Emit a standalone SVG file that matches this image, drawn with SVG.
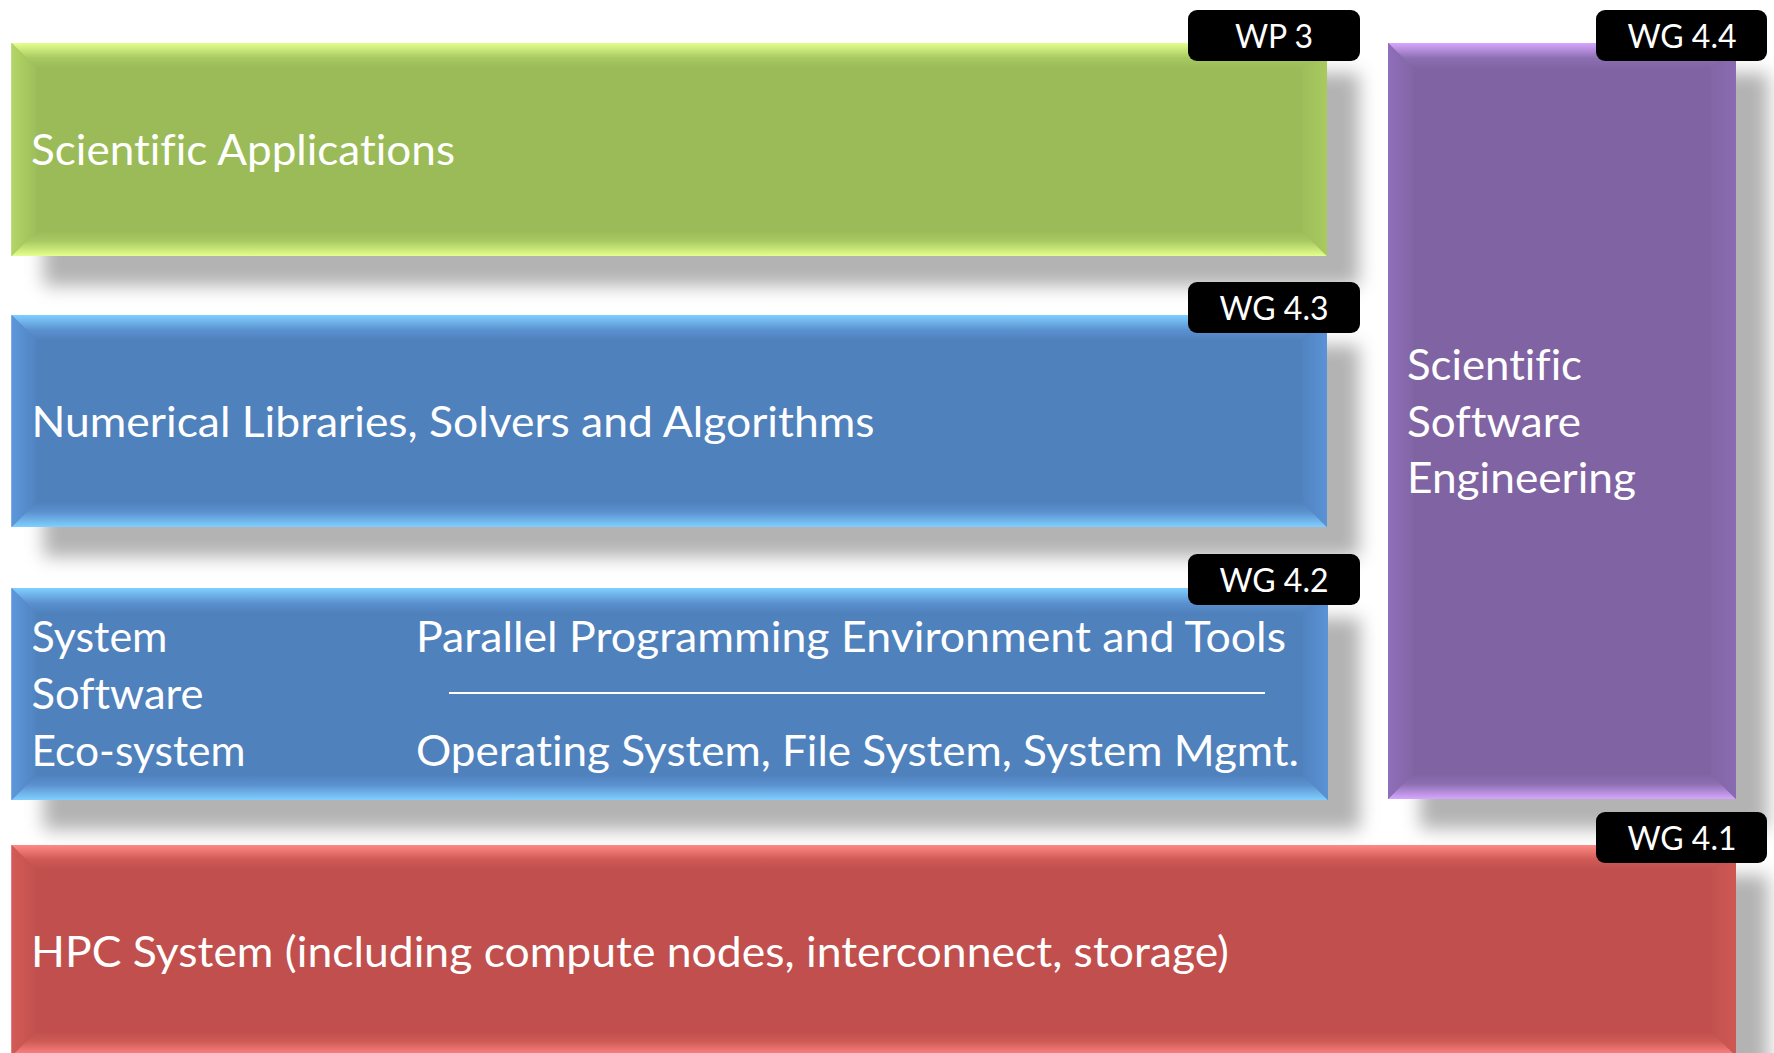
<svg xmlns="http://www.w3.org/2000/svg" width="1774" height="1053" viewBox="0 0 1774 1053">
<style>
.lbl{font-family:Lato,"Open Sans","Liberation Sans",sans-serif;font-size:43px;fill:#fff;font-variant-ligatures:none}
.tag{font-family:Lato,"Open Sans","Liberation Sans",sans-serif;font-size:32px;fill:#fff;text-anchor:middle}
.tagbox{fill:#000}
</style>
<defs>
<filter id="sh" x="-10%" y="-20%" width="125%" height="160%">
<feGaussianBlur in="SourceAlpha" stdDeviation="9"/>
<feOffset dx="32" dy="30" result="o"/>
<feFlood flood-color="#000" flood-opacity="0.3"/>
<feComposite in2="o" operator="in"/>
<feMerge><feMergeNode/><feMergeNode in="SourceGraphic"/></feMerge>
</filter>
<linearGradient id="gT" x1="0" y1="0" x2="0" y2="1"><stop offset="0" stop-color="#e4ff8c"/><stop offset="0.6" stop-color="#a8c962"/><stop offset="1" stop-color="#9bbb59"/></linearGradient>
<linearGradient id="gB" x1="0" y1="1" x2="0" y2="0"><stop offset="0" stop-color="#e4ff8c"/><stop offset="0.6" stop-color="#a8c962"/><stop offset="1" stop-color="#9bbb59"/></linearGradient>
<linearGradient id="gL" x1="0" y1="0" x2="1" y2="0"><stop offset="0" stop-color="#b3d566"/><stop offset="1" stop-color="#9ebe5a"/></linearGradient>
<linearGradient id="gR" x1="1" y1="0" x2="0" y2="0"><stop offset="0" stop-color="#a8ca60"/><stop offset="1" stop-color="#9ebe5a"/></linearGradient>
<linearGradient id="bT" x1="0" y1="0" x2="0" y2="1"><stop offset="0" stop-color="#80cfff"/><stop offset="0.6" stop-color="#5b91d0"/><stop offset="1" stop-color="#4f81bd"/></linearGradient>
<linearGradient id="bB" x1="0" y1="1" x2="0" y2="0"><stop offset="0" stop-color="#80cfff"/><stop offset="0.6" stop-color="#5b91d0"/><stop offset="1" stop-color="#4f81bd"/></linearGradient>
<linearGradient id="bL" x1="0" y1="0" x2="1" y2="0"><stop offset="0" stop-color="#5d98dc"/><stop offset="1" stop-color="#5183c0"/></linearGradient>
<linearGradient id="bR" x1="1" y1="0" x2="0" y2="0"><stop offset="0" stop-color="#5a93d6"/><stop offset="1" stop-color="#5183c0"/></linearGradient>
<linearGradient id="pT" x1="0" y1="0" x2="0" y2="1"><stop offset="0" stop-color="#d7a6ff"/><stop offset="0.6" stop-color="#8c6fb2"/><stop offset="1" stop-color="#8064a2"/></linearGradient>
<linearGradient id="pB" x1="0" y1="1" x2="0" y2="0"><stop offset="0" stop-color="#d7a6ff"/><stop offset="0.6" stop-color="#8c6fb2"/><stop offset="1" stop-color="#8064a2"/></linearGradient>
<linearGradient id="pL" x1="0" y1="0" x2="1" y2="0"><stop offset="0" stop-color="#906ebb"/><stop offset="1" stop-color="#8266a5"/></linearGradient>
<linearGradient id="pR" x1="1" y1="0" x2="0" y2="0"><stop offset="0" stop-color="#8a6bb2"/><stop offset="1" stop-color="#8266a5"/></linearGradient>
<linearGradient id="rT" x1="0" y1="0" x2="0" y2="1"><stop offset="0" stop-color="#ff8a85"/><stop offset="0.6" stop-color="#d05a56"/><stop offset="1" stop-color="#c0504d"/></linearGradient>
<linearGradient id="rB" x1="0" y1="1" x2="0" y2="0"><stop offset="0" stop-color="#ff8a85"/><stop offset="0.6" stop-color="#d05a56"/><stop offset="1" stop-color="#c0504d"/></linearGradient>
<linearGradient id="rL" x1="0" y1="0" x2="1" y2="0"><stop offset="0" stop-color="#d45a56"/><stop offset="1" stop-color="#c2524e"/></linearGradient>
<linearGradient id="rR" x1="1" y1="0" x2="0" y2="0"><stop offset="0" stop-color="#cf5854"/><stop offset="1" stop-color="#c2524e"/></linearGradient>
</defs>
<rect width="1774" height="1053" fill="#fff"/>

<g id="connectors"></g>

<g id="scientific-applications">
<rect x="11.5" y="43" width="1315.5" height="213" fill="#9bbb59" filter="url(#sh)"/>
<polygon points="11.5,43 1327,43 1302,68 36.5,68" fill="url(#gT)"/>
<polygon points="11.5,256 1327,256 1302,231 36.5,231" fill="url(#gB)"/>
<polygon points="11.5,43 36.5,68 36.5,231 11.5,256" fill="url(#gL)"/>
<polygon points="1327,43 1302,68 1302,231 1327,256" fill="url(#gR)"/>
<text class="lbl" x="31" y="165" textLength="424" lengthAdjust="spacingAndGlyphs">Scientific Applications</text>
</g>

<g id="numerical-libraries">
<rect x="11.5" y="315" width="1315.5" height="212" fill="#4f81bd" filter="url(#sh)"/>
<polygon points="11.5,315 1327,315 1302,340 36.5,340" fill="url(#bT)"/>
<polygon points="11.5,527 1327,527 1302,502 36.5,502" fill="url(#bB)"/>
<polygon points="11.5,315 36.5,340 36.5,502 11.5,527" fill="url(#bL)"/>
<polygon points="1327,315 1302,340 1302,502 1327,527" fill="url(#bR)"/>
<text class="lbl" x="31.5" y="437" textLength="843" lengthAdjust="spacingAndGlyphs">Numerical Libraries, Solvers and Algorithms</text>
</g>

<g id="system-software">
<rect x="11.5" y="588" width="1316.5" height="212" fill="#4f81bd" filter="url(#sh)"/>
<polygon points="11.5,588 1328,588 1303,613 36.5,613" fill="url(#bT)"/>
<polygon points="11.5,800 1328,800 1303,775 36.5,775" fill="url(#bB)"/>
<polygon points="11.5,588 36.5,613 36.5,775 11.5,800" fill="url(#bL)"/>
<polygon points="1328,588 1303,613 1303,775 1328,800" fill="url(#bR)"/>
<text class="lbl" x="31.5" y="652" textLength="136" lengthAdjust="spacingAndGlyphs">System</text>
<text class="lbl" x="31.5" y="709" textLength="172" lengthAdjust="spacingAndGlyphs">Software</text>
<text class="lbl" x="31.5" y="766" textLength="214" lengthAdjust="spacingAndGlyphs">Eco-system</text>
<text class="lbl" x="416" y="652" textLength="870" lengthAdjust="spacingAndGlyphs">Parallel Programming Environment and Tools</text>
<line x1="449" y1="693" x2="1265" y2="693" stroke="#fff" stroke-width="2"/>
<text class="lbl" x="416" y="766" textLength="883" lengthAdjust="spacingAndGlyphs">Operating System, File System, System Mgmt.</text>
</g>

<g id="software-engineering">
<rect x="1388" y="43" width="348" height="756" fill="#8064a2" filter="url(#sh)"/>
<polygon points="1388,43 1736,43 1711,68 1413,68" fill="url(#pT)"/>
<polygon points="1388,799 1736,799 1711,774 1413,774" fill="url(#pB)"/>
<polygon points="1388,43 1413,68 1413,774 1388,799" fill="url(#pL)"/>
<polygon points="1736,43 1711,68 1711,774 1736,799" fill="url(#pR)"/>
<text class="lbl" x="1407" y="380" textLength="175" lengthAdjust="spacingAndGlyphs">Scientific</text>
<text class="lbl" x="1407" y="437" textLength="174" lengthAdjust="spacingAndGlyphs">Software</text>
<text class="lbl" x="1407" y="493" textLength="229" lengthAdjust="spacingAndGlyphs">Engineering</text>
</g>

<g id="hpc-system">
<rect x="11.5" y="845" width="1724.5" height="211" fill="#c0504d" filter="url(#sh)"/>
<polygon points="11.5,845 1736,845 1712,869 35.5,869" fill="url(#rT)"/>
<polygon points="11.5,1056 1736,1056 1712,1032 35.5,1032" fill="url(#rB)"/>
<polygon points="11.5,845 35.5,869 35.5,1032 11.5,1056" fill="url(#rL)"/>
<polygon points="1736,845 1712,869 1712,1032 1736,1056" fill="url(#rR)"/>
<text class="lbl" x="31" y="967" textLength="1198" lengthAdjust="spacingAndGlyphs">HPC System (including compute nodes, interconnect, storage)</text>
</g>

<g id="tag-wp3">
<rect class="tagbox" x="1188" y="10" width="172" height="51" rx="9"/>
<text class="tag" x="1274" y="48">WP 3</text>
</g>
<g id="tag-wg44">
<rect class="tagbox" x="1596" y="10" width="171" height="51" rx="9"/>
<text class="tag" x="1682" y="48">WG 4.4</text>
</g>
<g id="tag-wg43">
<rect class="tagbox" x="1188" y="282" width="172" height="51" rx="9"/>
<text class="tag" x="1274" y="320">WG 4.3</text>
</g>
<g id="tag-wg42">
<rect class="tagbox" x="1188" y="554" width="172" height="51" rx="9"/>
<text class="tag" x="1274" y="592">WG 4.2</text>
</g>
<g id="tag-wg41">
<rect class="tagbox" x="1596" y="812" width="171" height="51" rx="9"/>
<text class="tag" x="1682" y="850">WG 4.1</text>
</g>
</svg>
